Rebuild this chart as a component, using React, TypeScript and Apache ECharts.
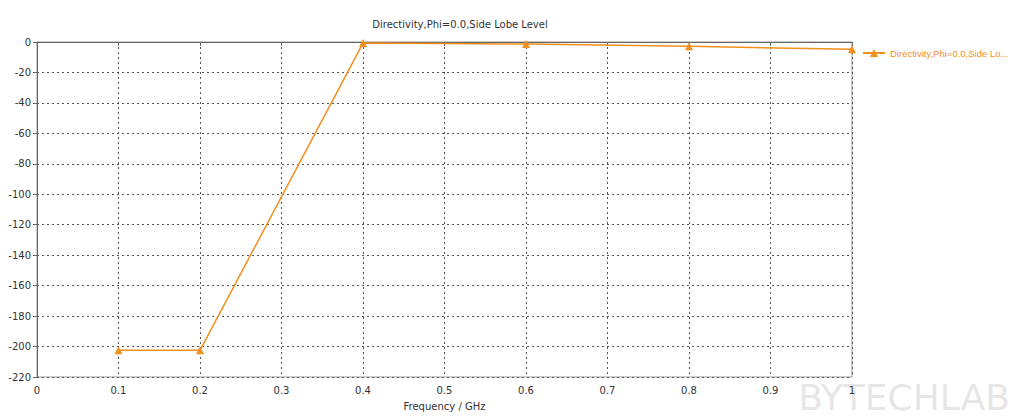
import React, { useEffect, useRef } from "react";
import * as echarts from "echarts";

const chartTitle = "Directivity,Phi=0.0,Side Lobe Level";
const seriesName = "Directivity,Phi=0.0,Side Lobe Level";
const legendLabel = "Directivity,Phi=0.0,Side Lo...";
const xAxisTitle = "Frequency / GHz";
const frequencies = [0.1, 0.2, 0.4, 0.6, 0.8, 1.0];
const levels = [-202.5, -202.5, -0.7, -1.3, -2.8, -4.8];
const watermark = "BYTECHLAB";

export default function App() {
  const ref = useRef<HTMLDivElement>(null);
  useEffect(() => {
    if (!ref.current) return;
    const chart = echarts.init(ref.current, null, { renderer: "svg" });
    const orange = "#F0901E";
    chart.setOption({
      animation: false,
      backgroundColor: "#ffffff",
      textStyle: { fontFamily: "DejaVu Sans" },
      title: {
        text: chartTitle,
        left: 455,
        top: 14,
        textAlign: "center",
        textStyle: { fontSize: 10, fontWeight: "normal", color: "#333" },
      },
      legend: {
        left: 857,
        top: 43,
        itemWidth: 22,
        itemHeight: 10,
        itemGap: 4,
        formatter: () => legendLabel,
        textStyle: { color: orange, fontSize: 9.5, fontFamily: "Liberation Sans" },
        data: [seriesName],
      },
      grid: {
        left: 37,
        right: 172,
        top: 42,
        bottom: 40,
        show: true,
        borderColor: "#999",
        borderWidth: 1,
      },
      xAxis: {
        type: "value",
        min: 0,
        max: 1,
        interval: 0.1,
        name: xAxisTitle,
        nameLocation: "middle",
        nameGap: 24,
        nameTextStyle: { fontSize: 10, color: "#333" },
        axisLine: { lineStyle: { color: "#666" } },
        axisTick: { show: true, length: 4, lineStyle: { color: "#666" } },
        axisLabel: { color: "#333", fontSize: 10, margin: 8, formatter: (v: number) => String(+v.toFixed(1)) },
        splitLine: { show: true, lineStyle: { color: "#555", type: [2, 3], width: 1 } },
      },
      yAxis: {
        type: "value",
        min: -220,
        max: 0,
        interval: 20,
        axisLine: { show: true, lineStyle: { color: "#666" } },
        axisTick: { show: true, length: 4, lineStyle: { color: "#666" } },
        axisLabel: { color: "#333", fontSize: 10, margin: 6 },
        splitLine: { show: true, lineStyle: { color: "#555", type: [2, 3], width: 1 } },
      },
      series: [
        {
          name: seriesName,
          type: "line",
          data: frequencies.map((f, i) => [f, levels[i]]),
          symbol: "triangle",
          symbolSize: 8,
          lineStyle: { color: orange, width: 1.5 },
          itemStyle: { color: orange },
        },
      ],
      graphic: [
        {
          type: "text",
          right: 14,
          top: 379,
          z: -1,
          style: {
            text: watermark,
            font: "36px 'DejaVu Sans'",
            fill: "rgba(200,200,200,0.45)",
          },
        },
      ],
    });
    return () => chart.dispose();
  }, []);
  return (
    <div
      ref={ref}
      style={{ position: "fixed", left: 0, top: 0, width: 1024, height: 417 }}
    />
  );
}
